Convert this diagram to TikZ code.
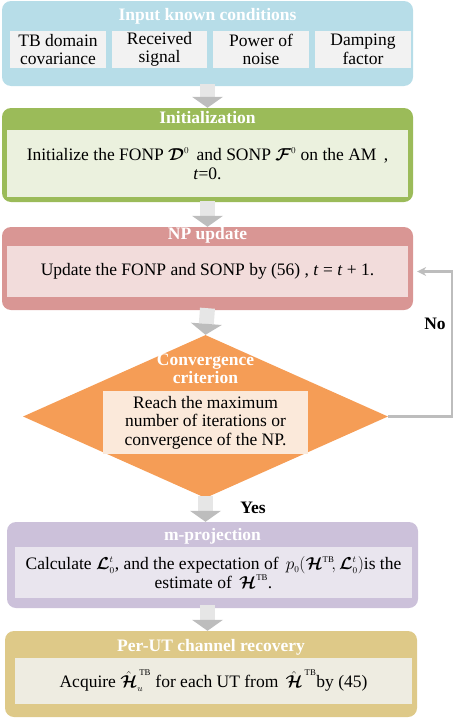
\documentclass[tikz,border=0pt]{standalone}
\usepackage{fontspec}
\setmainfont{Liberation Serif}
\usepackage{amsmath}
\usetikzlibrary{arrows.meta,shapes.geometric,calc}
\definecolor{cBlue}{HTML}{B7DDE8}
\definecolor{cBlueIn}{HTML}{F2F2F2}
\definecolor{cGreen}{HTML}{9BBB59}
\definecolor{cGreenIn}{HTML}{EBF1DE}
\definecolor{cRed}{HTML}{D99694}
\definecolor{cRedIn}{HTML}{F2DCDB}
\definecolor{cOrange}{HTML}{F59D56}
\definecolor{cOrangeIn}{HTML}{FBE9DA}
\definecolor{cPurple}{HTML}{CCC1DA}
\definecolor{cPurpleIn}{HTML}{E9E5EE}
\definecolor{cGold}{HTML}{DEC988}
\definecolor{cGoldIn}{HTML}{EEECE1}
\definecolor{cArrow}{HTML}{BDBDBD}
\definecolor{cStem}{HTML}{E6E6E6}
\newcommand{\tbsup}{{\scriptscriptstyle\mathrm{TB}}}
\begin{document}
\begin{tikzpicture}[x=1pt,y=-1pt,
  every node/.style={font=\fontsize{17.5}{18.5}\selectfont, inner sep=0pt, align=center},
  outerbox/.style={fill=#1, rounded corners=9pt},
  innerbox/.style={fill=#1},
  titletext/.style={text=white, font=\bfseries\fontsize{17.5}{18.5}\selectfont},
  labeltext/.style={text=black, font=\bfseries\fontsize{17.5}{18.5}\selectfont},
  blockarrow/.style={line width=15pt, draw=cStem,
    -{Triangle[length=11pt, width=31pt, line width=0pt, fill=cArrow, color=cArrow]}},
  feedback/.style={line width=2.2pt, draw=cArrow,
    -{Stealth[length=9pt, width=9pt, line width=0pt]}}
]
\useasboundingbox (0,0) rectangle (456,720);

% Box 1: input
\node[outerbox=cBlue, minimum width=411pt, minimum height=85pt] (b1) at (207.5,43.5) {};
\node[titletext] (t1) at (207.5,16) {Input known conditions};
\node[innerbox=cBlueIn, minimum width=96pt, minimum height=37pt] (s1) at (58,49.5) {TB domain\\covariance};
\node[innerbox=cBlueIn, minimum width=95pt, minimum height=37pt] (s2) at (159.5,49.5) {Received\\signal};
\node[innerbox=cBlueIn, minimum width=96pt, minimum height=37pt] (s3) at (261,49.5) {Power of\\noise};
\node[innerbox=cBlueIn, minimum width=96pt, minimum height=37pt] (s4) at (363,49.5) {Damping\\factor};

% Box 2: initialization
\node[outerbox=cGreen, minimum width=411pt, minimum height=94pt] (b2) at (207.5,155) {};
\node[titletext] (t2) at (207.5,118) {Initialization};
\node[innerbox=cGreenIn, minimum width=401pt, minimum height=67pt] (i2) at (207.5,163.5)
  {Initialize the FONP $\boldsymbol{\mathcal{D}}^{\scriptscriptstyle 0}$\, and SONP $\boldsymbol{\mathcal{F}}^{\scriptscriptstyle 0}$ on the AM\, ,\\ \textit{t}=0.};

% Box 3: NP update
\node[outerbox=cRed, minimum width=411pt, minimum height=83pt] (b3) at (207.5,268.5) {};
\node[titletext] (t3) at (207.5,235) {NP update};
\node[innerbox=cRedIn, minimum width=401pt, minimum height=51pt] (i3) at (207.5,271.5)
  {Update the FONP and SONP by (56) , \textit{t} = \textit{t} + 1.};

% Diamond: convergence
\node[diamond, fill=cOrange, minimum width=365pt, minimum height=163pt, inner sep=0pt] (dia) at (205.5,416.5) {};
\node[titletext] (t4) at (205.5,369) {Convergence\\criterion};
\node[innerbox=cOrangeIn, minimum width=205pt, minimum height=63pt] (i4) at (205.5,422.5)
  {Reach the maximum\\number of iterations or\\convergence of the NP.};

% Box 5: m-projection
\node[outerbox=cPurple, minimum width=411pt, minimum height=86pt] (b5) at (212.5,565) {};
\node[titletext] (t5) at (212.5,536) {m-projection};
\node[innerbox=cPurpleIn, minimum width=397pt, minimum height=51pt] (i5) at (213.5,572.5)
  {Calculate $\boldsymbol{\mathcal{L}}_{\scriptscriptstyle 0}^{\scriptscriptstyle t}$, and the expectation of $\,p_{\scriptscriptstyle 0}(\boldsymbol{\mathcal{H}}^\tbsup\!,\boldsymbol{\mathcal{L}}_{\scriptscriptstyle 0}^{\scriptscriptstyle t})$is the\\ estimate of $\,\boldsymbol{\mathcal{H}}^\tbsup$.};

% Box 6: per-UT recovery
\node[outerbox=cGold, minimum width=412pt, minimum height=86pt] (b6) at (211,674) {};
\node[titletext] (t6) at (211,647) {Per-UT channel recovery};
\node[innerbox=cGoldIn, minimum width=397pt, minimum height=46pt] (i6) at (213.5,681)
  {Acquire $\hat{\boldsymbol{\mathcal{H}}}_{\scriptscriptstyle u}^{\,\tbsup}$ for each UT from $\,\hat{\boldsymbol{\mathcal{H}}}^{\,\tbsup}$by (45)};

% block arrows
\draw[blockarrow] ([yshift=2pt]b1.south) -- (b2.north);
\draw[blockarrow] ([yshift=1pt]b2.south) -- (b3.north);
\draw[blockarrow] ([yshift=2pt]b3.south) -- (dia.north);
\draw[blockarrow] ([yshift=2pt]dia.south) -- (dia.south |- b5.north);
\draw[blockarrow] ([xshift=-5pt,yshift=3pt]b5.south) -- ([xshift=-5pt]b5.south |- b6.north);

% feedback loop
\coordinate (fbx) at (452,0);
\draw[feedback] (dia.east) -- (dia.east -| fbx) |- ([xshift=9pt]i3.east);
\node[labeltext] (no) at (435,324) {No};
\node[labeltext] (yes) at (253,508) {Yes};
\end{tikzpicture}
\end{document}
